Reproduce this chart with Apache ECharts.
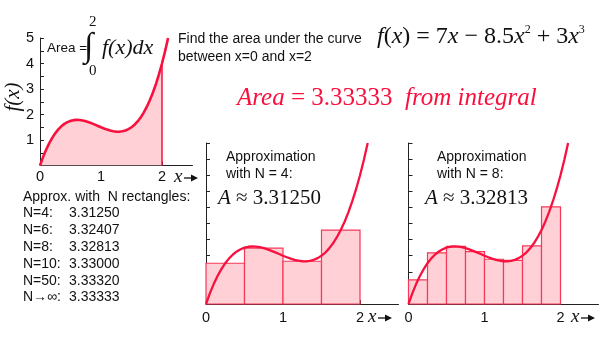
<!DOCTYPE html>
<html><head><meta charset="utf-8">
<script src="https://cdn.jsdelivr.net/npm/echarts@6/dist/echarts.min.js"></script>
<style>html,body{margin:0;padding:0;background:#fff}#c{width:601px;height:347px}</style>
</head><body><div id="c"></div>
<script>
// ---- data ----
const curveX = [0,0.05,0.1,0.15,0.2,0.25,0.3,0.35,0.4,0.45,0.5,0.55,0.6,0.65,0.7,0.75,0.8,0.85,0.9,0.95,1,
  1.05,1.1,1.15,1.2,1.25,1.3,1.35,1.4,1.45,1.5,1.55,1.6,1.65,1.7,1.75,1.8,1.85,1.9,1.95,2,2.05,2.1];
const curveY = [0,0.329,0.618,0.869,1.084,1.266,1.416,1.537,1.632,1.702,1.75,1.778,1.788,1.783,1.764,1.734,1.696,1.651,1.602,1.551,1.5,
  1.452,1.408,1.371,1.344,1.328,1.326,1.340,1.372,1.425,1.5,1.598,1.728,1.885,2.074,2.297,2.556,2.854,3.192,3.573,4,4.474,4.998];
const areaEndX = 2;
const areaEndY = 4;
const rects4 = [[0,0.5,1.266],[0.5,1,1.734],[1,1.5,1.328],[1.5,2,2.297]];
const rects8 = [[0,0.25,0.748],[0.25,0.5,1.588],[0.5,0.75,1.787],[0.75,1,1.627],
  [1,1.25,1.389],[1.25,1.5,1.354],[1.5,1.75,1.803],[1.75,2,3.018]];
const approxN = ['N=4:','N=6:','N=8:','N=10:','N=50:','N\u2192\u221e:'];
const approxVals = ['3.31250','3.32407','3.32813','3.33000','3.33320','3.33333'];
const xLabelVals = [0,1,2];
const xTickVals = [0.5,1,1.5,2];
const yLabelVals = [1,2,3,4,5];
const yTickVals = [0.5,1,1.5,2,2.5,3,3.5,4,4.5,5];

// ---- styling ----
const RED = '#f8103f', PINK = '#ffd0d5', RSTROKE = '#f8385a', AX = '#222';
const SANS = '"Liberation Sans", Arial, sans-serif';
const SERIF = '"Liberation Serif", "Times New Roman", serif';
const curve = curveX.map((x,i)=>[x,curveY[i]]);
const areaPts = curve.filter(p=>p[0]<=areaEndX);

function xAx(gi, margin){
  return {gridIndex:gi, type:'value', min:0, max:2.5,
    axisLine:{show:true, lineStyle:{color:AX, width:1}},
    axisTick:{show:true, inside:true, length:4, customValues:xTickVals, lineStyle:{color:AX}},
    axisLabel:{show:true, customValues:xLabelVals, margin:margin, fontSize:14.5, color:'#111', fontFamily:SANS},
    splitLine:{show:false}};
}
function yAx(gi, labels){
  return {gridIndex:gi, type:'value', min:0, max:5,
    axisLine:{show:true, lineStyle:{color:AX, width:1}},
    axisTick:{show:true, inside:true, length:4, customValues:yTickVals, lineStyle:{color:AX}},
    axisLabel:{show:labels, customValues:yLabelVals, margin:6, fontSize:14.5, color:'#111', fontFamily:SANS},
    splitLine:{show:false}};
}
function rectSeries(idx, data){
  return {type:'custom', xAxisIndex:idx, yAxisIndex:idx, data:data, encode:{x:[0,1], y:2}, z:2,
    renderItem:(params, api)=>{
      const p0 = api.coord([api.value(0), api.value(2)]);
      const p1 = api.coord([api.value(1), 0]);
      return {type:'rect', shape:{x:p0[0], y:p0[1], width:p1[0]-p0[0], height:p1[1]-p0[1]},
        style:{fill:PINK, stroke:RSTROKE, lineWidth:1.2}};
    }};
}
function curveSeries(idx, w){
  return {type:'line', xAxisIndex:idx, yAxisIndex:idx, data:curve, showSymbol:false, smooth:false, z:5,
    clip:true, lineStyle:{color:RED, width:w}};
}
function txt(x,y,text,font,extra,rot){
  return {type:'text', x:x, y:y, z:10, rotation:rot||0,
    style:Object.assign({text:text, font:font, fill:'#111', align:'left', verticalAlign:'middle'}, extra||{})};
}
function arrowX(x,y){
  return [
    txt(x, y, 'x', 'italic 19px '+SERIF, {verticalAlign:'middle'}),
    {type:'line', z:10, shape:{x1:x+10, y1:y+1, x2:x+20, y2:y+1}, style:{stroke:'#111', lineWidth:1.3}},
    {type:'polygon', z:10, shape:{points:[[x+17,y-2.5],[x+24,y+1],[x+17,y+4.5]]}, style:{fill:'#111'}}
  ];
}

const graphics = [
  txt(47, 48, 'Area =', '13.5px '+SANS),
  txt(84, 47, '\u222b', '34px '+SERIF),
  txt(89, 22, '2', '15px '+SERIF),
  txt(89, 71, '0', '15px '+SERIF),
  txt(102, 48, 'f(x)dx', 'italic 22px '+SERIF),
  txt(13, 97, 'f(x)', 'italic 21px '+SERIF, {align:'center'}, Math.PI/2),
  txt(178, 39, 'Find the area under the curve', '14px '+SANS),
  txt(178, 57, 'between x=0 and x=2', '14px '+SANS),
  {type:'text', x:377, y:37, z:10, style:{
    text:'{i|f}{r|(}{i|x}{r|) = 7}{i|x}{r| \u2212 8.5}{i|x}{s|2}{r| + 3}{i|x}{s|3}',
    fill:'#111', align:'left', verticalAlign:'middle',
    rich:{i:{fontFamily:SERIF, fontStyle:'italic', fontSize:24, lineHeight:27},
          r:{fontFamily:SERIF, fontSize:24, lineHeight:27},
          s:{fontFamily:SERIF, fontSize:12, lineHeight:27, verticalAlign:'top'}}}},
  {type:'text', x:237, y:98, z:10, style:{
    text:'{i|Area}{r| = 3.33333  }{i|from integral}',
    fill:RED, align:'left', verticalAlign:'middle',
    rich:{i:{fontFamily:SERIF, fontStyle:'italic', fontSize:25, fill:RED, color:RED},
          r:{fontFamily:SERIF, fontSize:25, fill:RED, color:RED}}}},
  txt(23, 197, 'Approx. with  N rectangles:', '14px '+SANS),
  txt(226, 157, 'Approximation', '14px '+SANS),
  txt(226, 174, 'with N = 4:', '14px '+SANS),
  {type:'text', x:218, y:198, z:10, style:{text:'{i|A}{r| \u2248 3.31250}', fill:'#111', verticalAlign:'middle',
    rich:{i:{fontFamily:SERIF, fontStyle:'italic', fontSize:21}, r:{fontFamily:SERIF, fontSize:21}}}},
  txt(437, 157, 'Approximation', '14px '+SANS),
  txt(437, 174, 'with N = 8:', '14px '+SANS),
  {type:'text', x:425, y:198, z:10, style:{text:'{i|A}{r| \u2248 3.32813}', fill:'#111', verticalAlign:'middle',
    rich:{i:{fontFamily:SERIF, fontStyle:'italic', fontSize:21}, r:{fontFamily:SERIF, fontSize:21}}}},
  ...arrowX(174, 177),
  ...arrowX(368, 317),
  ...arrowX(571, 317)
];
approxN.forEach((n,i)=>{
  graphics.push(txt(23, 213.5 + i*16.8, n, '14px '+SANS));
  graphics.push(txt(69, 213.5 + i*16.8, approxVals[i], '14px '+SANS));
});

const chart = echarts.init(document.getElementById('c'), null, {renderer:'canvas'});
chart.setOption({
  animation:false,
  backgroundColor:'#fff',
  grid:[{left:40, top:38, width:152.5, height:127.5},
        {left:206, top:143, width:192.5, height:161},
        {left:408.5, top:143, width:190, height:161}],
  xAxis:[xAx(0,4), xAx(1,6), xAx(2,6)],
  yAxis:[yAx(0,true), yAx(1,false), yAx(2,false)],
  series:[
    {type:'line', xAxisIndex:0, yAxisIndex:0, data:areaPts, showSymbol:false, z:1,
      lineStyle:{width:0}, areaStyle:{color:PINK, opacity:1}},
    {type:'line', xAxisIndex:0, yAxisIndex:0, data:[[areaEndX,0],[areaEndX,areaEndY]], showSymbol:false, z:4,
      lineStyle:{color:RED, width:1.5}},
    curveSeries(0, 2.6),
    rectSeries(1, rects4),
    curveSeries(1, 2.3),
    rectSeries(2, rects8),
    curveSeries(2, 2.3)
  ],
  graphic:graphics
});
</script></body></html>
